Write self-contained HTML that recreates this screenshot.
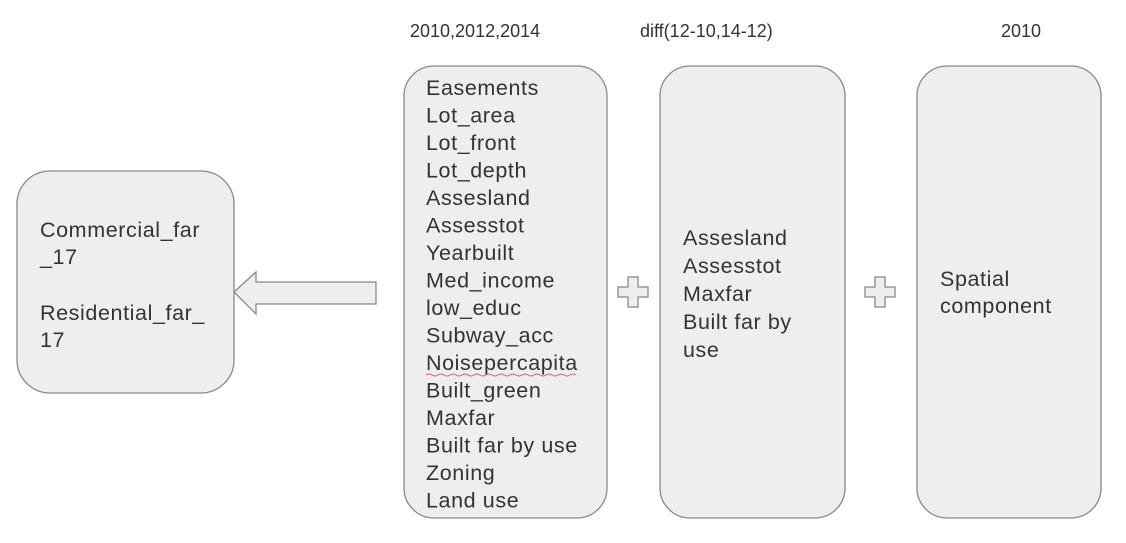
<!DOCTYPE html>
<html><head><style>
body{margin:0;background:#fff;}
text{font-family:"Liberation Sans",sans-serif;font-size:21.5px;fill:#333;letter-spacing:0.6px;}
text.t{font-size:18px;letter-spacing:0;}
</style></head><body>
<svg width="1126" height="538" xmlns="http://www.w3.org/2000/svg">
<g fill="#eeeeee" stroke="#888" stroke-width="1.3">
<rect x="17" y="171" width="217" height="222" rx="33"/>
<rect x="404" y="66" width="203" height="452" rx="30"/>
<rect x="660" y="66" width="185" height="452" rx="30"/>
<rect x="917" y="66" width="184" height="452" rx="30"/>
<path d="M234 292 L256 272 L256 282 L376 282 L376 304 L256 304 L256 314 Z"/>
<path d="M628 277 h10 v10 h10 v10 h-10 v10 h-10 v-10 h-10 v-10 h10 Z"/>
<path d="M875 277 h10 v10 h10 v10 h-10 v10 h-10 v-10 h-10 v-10 h10 Z"/>
</g>
<text class="t" x="410" y="37">2010,2012,2014</text>
<text class="t" x="640" y="37">diff(12-10,14-12)</text>
<text class="t" x="1001" y="37">2010</text>
<g>
<text x="40" y="237">Commercial_far</text>
<text x="40" y="264">_17</text>
<text x="40" y="320">Residential_far_</text>
<text x="40" y="347">17</text>
</g>
<g>
<text x="426" y="95">Easements</text>
<text x="426" y="122.5">Lot_area</text>
<text x="426" y="150">Lot_front</text>
<text x="426" y="177.5">Lot_depth</text>
<text x="426" y="205">Assesland</text>
<text x="426" y="232.5">Assesstot</text>
<text x="426" y="260">Yearbuilt</text>
<text x="426" y="287.5">Med_income</text>
<text x="426" y="315">low_educ</text>
<text x="426" y="342.5">Subway_acc</text>
<text x="426" y="370">Noisepercapita</text>
<text x="426" y="397.5">Built_green</text>
<text x="426" y="425">Maxfar</text>
<text x="426" y="452.5">Built far by use</text>
<text x="426" y="480">Zoning</text>
<text x="426" y="507.5">Land use</text>
</g>
<path d="M426 375 q3 -2 6 0 t6 0 t6 0 t6 0 t6 0 t6 0 t6 0 t6 0 t6 0 t6 0 t6 0 t6 0 t6 0 t6 0 t6 0 t6 0 t6 0 t6 0 t6 0 t6 0 t6 0 t6 0 t6 0 t6 0 t6 0" fill="none" stroke="#e06060" stroke-width="1"/>
<g>
<text x="683" y="245">Assesland</text>
<text x="683" y="273">Assesstot</text>
<text x="683" y="301">Maxfar</text>
<text x="683" y="329">Built far by</text>
<text x="683" y="357">use</text>
</g>
<text x="940" y="286">Spatial</text>
<text x="940" y="313">component</text>
</svg>
</body></html>
